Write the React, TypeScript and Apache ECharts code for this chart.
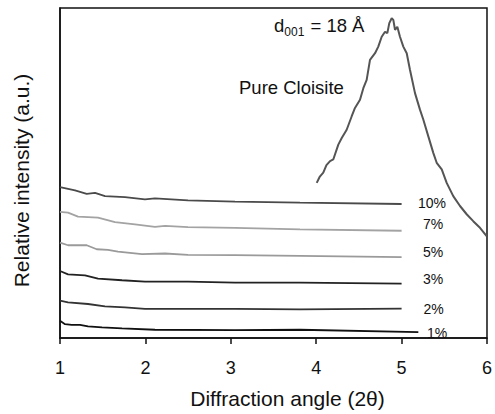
import React, { useEffect, useRef } from "react";
import * as echarts from "echarts";

const xTicks = [1, 2, 3, 4, 5, 6];

const pureX = [4.006, 4.04, 4.083, 4.12, 4.162, 4.2, 4.259, 4.299, 4.357, 4.416, 4.454, 4.513, 4.552, 4.591, 4.63, 4.689, 4.727, 4.767, 4.806, 4.833, 4.856, 4.884, 4.903, 4.923, 4.95, 4.981, 5.02, 5.06, 5.098, 5.157, 5.215, 5.254, 5.313, 5.371, 5.411, 5.47, 5.528, 5.605, 5.684, 5.762, 5.839, 5.918, 5.996];
const pureY = [47.0, 48.8, 50.1, 52.4, 53.6, 54.1, 58.6, 60.6, 63.1, 67.2, 69.7, 72.2, 75.7, 78.2, 84.3, 86.3, 88.3, 91.3, 92.8, 92.4, 95.4, 96.9, 96.4, 93.4, 94.3, 91.3, 88.3, 86.3, 81.3, 74.2, 69.2, 66.2, 61.1, 56.1, 53.1, 51.1, 47.0, 43.0, 40.0, 37.5, 35.4, 33.4, 30.9];

const p10X = [1.0, 1.176, 1.313, 1.41, 1.527, 1.761, 1.995, 2.112, 2.499, 3.049, 3.81, 5.0];
const p10Y = [45.7, 44.7, 43.7, 44.0, 43.0, 42.7, 42.0, 42.3, 41.7, 41.3, 41.0, 40.6];

const p7X = [1.0, 1.094, 1.211, 1.445, 1.644, 1.878, 2.112, 2.23, 2.499, 3.049, 3.81, 5.0];
const p7Y = [38.2, 38.0, 36.8, 36.5, 35.1, 34.4, 33.7, 34.0, 33.6, 33.4, 32.9, 32.5];

const p5X = [1.0, 1.094, 1.313, 1.43, 1.562, 1.679, 1.96, 2.23, 2.499, 3.049, 3.81, 5.0];
const p5Y = [28.9, 28.1, 28.1, 26.9, 26.7, 26.2, 25.4, 25.6, 25.2, 25.1, 24.9, 24.5];

const p3X = [1.0, 1.094, 1.293, 1.445, 1.726, 1.995, 2.499, 3.049, 3.81, 5.0];
const p3Y = [20.3, 19.3, 19.0, 18.0, 17.5, 17.1, 17.1, 16.8, 16.8, 16.5];

const p2X = [1.0, 1.094, 1.328, 1.527, 1.761, 1.995, 3.049, 3.81, 5.0];
const p2Y = [11.3, 10.8, 10.3, 9.6, 9.3, 8.8, 8.8, 8.7, 8.9];

const p1X = [1.0, 1.059, 1.137, 1.234, 1.328, 1.492, 1.726, 2.112, 3.049, 3.81, 5.196];
const p1Y = [5.2, 4.2, 4.0, 4.0, 3.5, 3.2, 2.9, 2.5, 2.4, 2.5, 1.8];

const pctLabels = ["10%", "7%", "5%", "3%", "2%", "1%"];

const FONT = "Liberation Sans, Arial, sans-serif";

function zip(xs: number[], ys: number[]) {
  return xs.map((x, i) => [x, ys[i]]);
}

export default function App() {
  const ref = useRef<HTMLDivElement>(null);
  useEffect(() => {
    if (!ref.current) return;
    const chart = echarts.init(ref.current, undefined, { renderer: "svg" });
    const mk = (name: string, xs: number[], ys: number[], color: string, w = 1.8) => ({
      name,
      type: "line",
      data: zip(xs, ys),
      showSymbol: false,
      symbol: "none",
      lineStyle: { color, width: w },
      smooth: false,
    });
    const labelPos = [
      [432, 203],
      [433, 223.5],
      [433, 252],
      [433, 278.5],
      [433.5, 308.5],
      [437, 332.5],
    ];
    chart.setOption({
      animation: false,
      backgroundColor: "#ffffff",
      textStyle: { fontFamily: FONT },
      grid: {
        left: 60,
        right: 8,
        top: 8,
        bottom: 75,
        show: true,
        borderColor: "#111",
        borderWidth: 1.5,
        backgroundColor: "transparent",
      },
      xAxis: {
        type: "value",
        min: 1,
        max: 6,
        interval: 1,
        name: "Diffraction angle (2θ)",
        nameLocation: "middle",
        nameGap: 50,
        nameTextStyle: { fontSize: 21, color: "#111", fontFamily: FONT, padding: [0, 0, 0, 28] },
        axisLine: { show: true, lineStyle: { color: "#111", width: 1.5 } },
        axisTick: { show: true, inside: false, length: 6, lineStyle: { color: "#111", width: 1.5 } },
        axisLabel: { fontSize: 18, color: "#111", margin: 21, fontFamily: FONT },
        splitLine: { show: false },
      },
      yAxis: {
        type: "value",
        min: 0,
        max: 100,
        name: "Relative intensity (a.u.)",
        nameLocation: "middle",
        nameGap: 28,
        nameTextStyle: { fontSize: 21, color: "#111", fontFamily: FONT, padding: [0, 15, 0, 0] },
        axisLine: { show: true, lineStyle: { color: "#111", width: 1.5 } },
        axisTick: { show: false },
        axisLabel: { show: false },
        splitLine: { show: false },
      },
      series: [
        mk("Pure Cloisite", pureX, pureY, "#555555", 2),
        mk("10%", p10X, p10Y, "#4a4a4a"),
        mk("7%", p7X, p7Y, "#a3a3a3"),
        mk("5%", p5X, p5Y, "#9a9a9a"),
        mk("3%", p3X, p3Y, "#222222"),
        mk("2%", p2X, p2Y, "#333333"),
        mk("1%", p1X, p1Y, "#111111"),
      ],
      graphic: [
        ...pctLabels.map((t, i) => ({
          type: "text",
          x: labelPos[i][0],
          y: labelPos[i][1],
          style: {
            text: t,
            fontSize: 14,
            fontFamily: FONT,
            fill: "#111",
            align: "center",
            verticalAlign: "middle",
          },
        })),
        {
          type: "text",
          x: 239,
          y: 87.5,
          style: {
            text: "Pure Cloisite",
            fontSize: 18.5,
            fontFamily: FONT,
            fill: "#111",
            align: "left",
            verticalAlign: "middle",
          },
        },
        {
          type: "text",
          x: 274,
          y: 12,
          style: {
            text: "{a|d}{b|001}{a| = 18 Å}",
            fontFamily: FONT,
            fill: "#111",
            align: "left",
            verticalAlign: "top",
            rich: {
              a: { fontSize: 18.5, fontFamily: FONT, fill: "#111", lineHeight: 26, verticalAlign: "middle" },
              b: { fontSize: 12, fontFamily: FONT, fill: "#111", lineHeight: 26, verticalAlign: "bottom", padding: [0, 1, 0, 0] },
            },
          },
        },
      ],
    });
    return () => chart.dispose();
  }, []);
  return (
    <div
      ref={ref}
      style={{ position: "fixed", left: 0, top: 0, width: 495, height: 414, background: "#fff" }}
    />
  );
}
